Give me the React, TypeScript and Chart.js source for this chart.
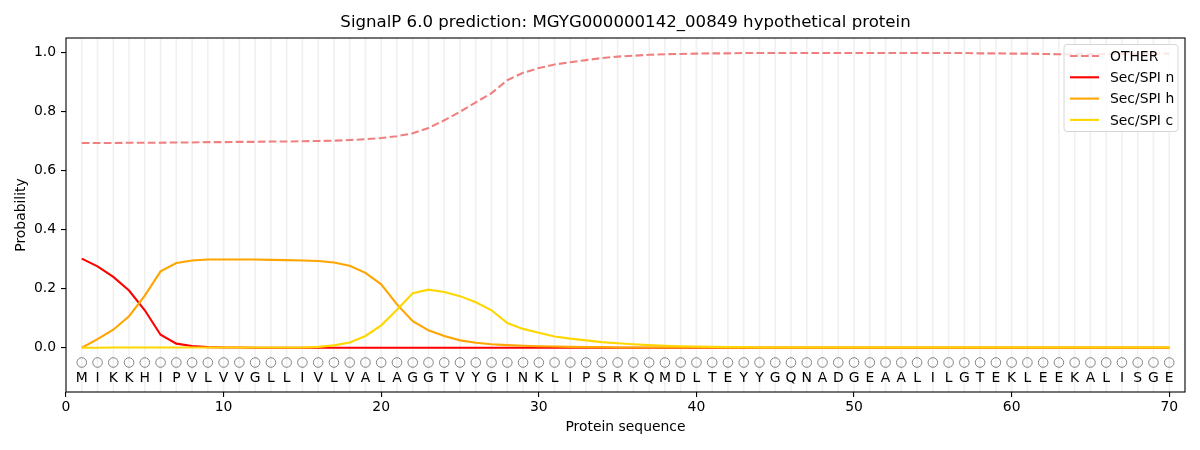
import React, { useEffect, useRef } from "react";
import { Chart, registerables } from "chart.js";

Chart.register(...registerables);

const sequence = [
  "M","I","K","K","H","I","P","V","L","V","V","G","L","L","I","V","L","V","A","L",
  "A","G","G","T","V","Y","G","I","N","K","L","I","P","S","R","K","Q","M","D","L",
  "T","E","Y","Y","G","Q","N","A","D","G","E","A","A","L","I","L","G","T","E","K",
  "L","E","E","K","A","L","I","S","G","E",
];
const positions = sequence.map((_, i) => i + 1);

const otherProb = [
  0.694,0.694,0.694,0.695,0.695,0.695,0.696,0.696,0.697,0.697,
  0.698,0.698,0.699,0.699,0.700,0.701,0.702,0.704,0.707,0.711,
  0.717,0.727,0.745,0.771,0.800,0.832,0.863,0.907,0.932,0.948,
  0.960,0.968,0.975,0.982,0.987,0.990,0.993,0.995,0.996,0.997,
  0.998,0.998,0.999,0.999,0.999,0.999,0.999,0.999,0.999,0.999,
  0.999,0.999,0.999,0.999,0.999,0.999,0.999,0.998,0.998,0.997,
  0.997,0.996,0.995,0.995,0.995,0.995,0.996,0.996,0.997,0.997,
];
const secN = [
  0.302,0.276,0.240,0.194,0.127,0.044,0.014,0.006,0.002,0.001,
  0.001,0.000,0.000,0.000,0.000,0.000,0.000,0.000,0.000,0.000,
  0.000,0.000,0.000,0.000,0.000,0.000,0.000,0.000,0.000,0.000,
  0.000,0.000,0.000,0.000,0.000,0.000,0.000,0.000,0.000,0.000,
  0.000,0.000,0.000,0.000,0.000,0.000,0.000,0.000,0.000,0.000,
  0.000,0.000,0.000,0.000,0.000,0.000,0.000,0.000,0.000,0.000,
  0.000,0.000,0.000,0.000,0.000,0.000,0.000,0.000,0.000,0.000,
];
const secH = [
  0.000,0.029,0.061,0.107,0.177,0.259,0.287,0.296,0.299,0.299,
  0.299,0.299,0.298,0.297,0.296,0.294,0.289,0.278,0.254,0.215,
  0.147,0.090,0.059,0.040,0.025,0.017,0.012,0.009,0.007,0.005,
  0.004,0.003,0.002,0.002,0.001,0.001,0.001,0.001,0.001,0.001,
  0.001,0.001,0.001,0.001,0.001,0.001,0.001,0.001,0.001,0.001,
  0.001,0.001,0.001,0.001,0.001,0.001,0.001,0.001,0.001,0.001,
  0.001,0.001,0.001,0.001,0.001,0.001,0.001,0.001,0.001,0.001,
];
const secC = [
  0.000,0.000,0.001,0.001,0.001,0.001,0.001,0.001,0.001,0.001,
  0.001,0.001,0.001,0.001,0.001,0.003,0.008,0.018,0.040,0.076,
  0.129,0.185,0.197,0.189,0.175,0.154,0.127,0.084,0.064,0.051,
  0.038,0.031,0.025,0.019,0.015,0.012,0.009,0.007,0.005,0.004,
  0.003,0.002,0.002,0.001,0.001,0.001,0.001,0.001,0.001,0.001,
  0.001,0.001,0.001,0.001,0.001,0.001,0.001,0.001,0.001,0.001,
  0.001,0.001,0.001,0.001,0.001,0.001,0.001,0.001,0.001,0.001,
];

const seriesLabels = ["OTHER", "Sec/SPI n", "Sec/SPI h", "Sec/SPI c"];
const seriesColors = ["#f08080", "#ff0000", "#ffa500", "#ffd700"];
const yTicks = [0, 0.2, 0.4, 0.6, 0.8, 1.0];
const xTicks = [0, 10, 20, 30, 40, 50, 60, 70];
const titleText = "SignalP 6.0 prediction: MGYG000000142_00849 hypothetical protein";
const xTitle = "Protein sequence";
const yTitle = "Probability";
const circleLevel = -0.05;
const letterLevel = -0.1;

const FONT = "'DejaVu Sans', sans-serif";

const decorPlugin = {
  id: "decor",
  beforeDatasetsDraw(chart: any) {
    const { ctx, chartArea, scales } = chart;
    ctx.save();
    ctx.strokeStyle = "rgba(200,200,200,0.28)";
    ctx.lineWidth = 1.6;
    positions.forEach((p) => {
      const x = scales.x.getPixelForValue(p);
      ctx.beginPath();
      ctx.moveTo(x, chartArea.top);
      ctx.lineTo(x, chartArea.bottom);
      ctx.stroke();
    });
    ctx.restore();
  },
  afterDatasetsDraw(chart: any) {
    const { ctx, chartArea, scales } = chart;
    ctx.save();
    // title centred over the axes
    ctx.fillStyle = "#000";
    ctx.font = `16.6px ${FONT}`;
    ctx.textAlign = "center";
    ctx.textBaseline = "middle";
    ctx.fillText(titleText, (chartArea.left + chartArea.right) / 2, 23);
    // sequence letters
    ctx.font = `13.9px ${FONT}`;
    const ly = scales.y.getPixelForValue(letterLevel);
    sequence.forEach((s, i) => {
      ctx.fillText(s, scales.x.getPixelForValue(positions[i]), ly + 1);
    });
    // frame
    ctx.strokeStyle = "#000";
    ctx.lineWidth = 1.1;
    ctx.strokeRect(
      chartArea.left,
      chartArea.top,
      chartArea.right - chartArea.left,
      chartArea.bottom - chartArea.top
    );
    // legend
    const bx = chartArea.right - 121;
    const by = chartArea.top + 6.5;
    const bw = 114;
    const bh = 87;
    ctx.beginPath();
    ctx.roundRect(bx, by, bw, bh, 3);
    ctx.fillStyle = "rgba(255,255,255,0.8)";
    ctx.fill();
    ctx.strokeStyle = "#d6d6d6";
    ctx.lineWidth = 1;
    ctx.stroke();
    ctx.font = `13.9px ${FONT}`;
    ctx.textAlign = "left";
    ctx.textBaseline = "middle";
    seriesLabels.forEach((lab, i) => {
      const y = by + 11.5 + i * 21.3;
      ctx.beginPath();
      ctx.strokeStyle = seriesColors[i];
      ctx.lineWidth = 2.1;
      ctx.setLineDash(i === 0 ? [7.7, 3.3] : []);
      ctx.moveTo(bx + 6, y);
      ctx.lineTo(bx + 35, y);
      ctx.stroke();
      ctx.setLineDash([]);
      ctx.fillStyle = "#000";
      ctx.fillText(lab, bx + 46, y + 1);
    });
    ctx.restore();
  },
};

export default function App() {
  const canvasRef = useRef<HTMLCanvasElement | null>(null);

  useEffect(() => {
    document.body.style.margin = "0";
    const canvas = canvasRef.current;
    if (!canvas) return;
    const seriesData = [otherProb, secN, secH, secC];
    const datasets: any[] = seriesData.map((arr, si) => ({
      label: seriesLabels[si],
      data: positions.map((p, i) => ({ x: p, y: arr[i] })),
      borderColor: seriesColors[si],
      backgroundColor: seriesColors[si],
      borderWidth: 2.1,
      borderDash: si === 0 ? [7.7, 3.3] : [],
      pointRadius: 0,
      fill: false,
      tension: 0,
      order: 10 - si,
    }));
    datasets.push({
      label: "residues",
      data: positions.map((p) => ({ x: p, y: circleLevel })),
      showLine: false,
      pointRadius: 4.8,
      pointStyle: "circle",
      pointBorderColor: "#808080",
      pointBackgroundColor: "rgba(0,0,0,0)",
      pointBorderWidth: 1,
      order: 0,
    });

    const chart = new Chart(canvas, {
      type: "line",
      data: { datasets },
      plugins: [decorPlugin],
      options: {
        animation: false,
        responsive: false,
        devicePixelRatio: 1,
        layout: { padding: { left: 0, right: 15, top: 38, bottom: 0 } },
        plugins: {
          legend: { display: false },
          tooltip: { enabled: false },
          title: { display: false },
        },
        scales: {
          x: {
            type: "linear",
            min: 0,
            max: 71,
            afterBuildTicks: (scale: any) => {
              scale.ticks = xTicks.map((v) => ({ value: v }));
            },
            afterFit: (scale: any) => {
              scale.height = 58;
            },
            ticks: {
              color: "#000",
              font: { family: FONT, size: 13.9 },
              padding: 2,
              maxRotation: 0,
              autoSkip: false,
              callback: (v: any) => String(v),
            },
            grid: {
              drawOnChartArea: false,
              drawTicks: true,
              tickLength: 5,
              color: "#000",
              lineWidth: 1.1,
            },
            border: { display: false },
            title: {
              display: true,
              text: xTitle,
              color: "#000",
              font: { family: FONT, size: 13.9 },
              padding: { top: 0, bottom: 14.5 },
            },
          },
          y: {
            type: "linear",
            min: -0.15,
            max: 1.05,
            afterBuildTicks: (scale: any) => {
              scale.ticks = yTicks.map((v) => ({ value: v }));
            },
            afterFit: (scale: any) => {
              scale.width = 66;
            },
            ticks: {
              color: "#000",
              font: { family: FONT, size: 13.9 },
              padding: 5,
              callback: (v: any) => Number(v).toFixed(1),
            },
            grid: {
              drawOnChartArea: false,
              drawTicks: true,
              tickLength: 5,
              color: "#000",
              lineWidth: 1.1,
            },
            border: { display: false },
            title: {
              display: true,
              text: yTitle,
              color: "#000",
              font: { family: FONT, size: 13.9 },
              padding: { top: 13.5, bottom: 0 },
            },
          },
        },
      },
    } as any);
    return () => chart.destroy();
  }, []);

  return (
    <div style={{ width: 1200, height: 450, position: "relative" }}>
      <canvas ref={canvasRef} width={1200} height={450} style={{ display: "block" }} />
    </div>
  );
}
